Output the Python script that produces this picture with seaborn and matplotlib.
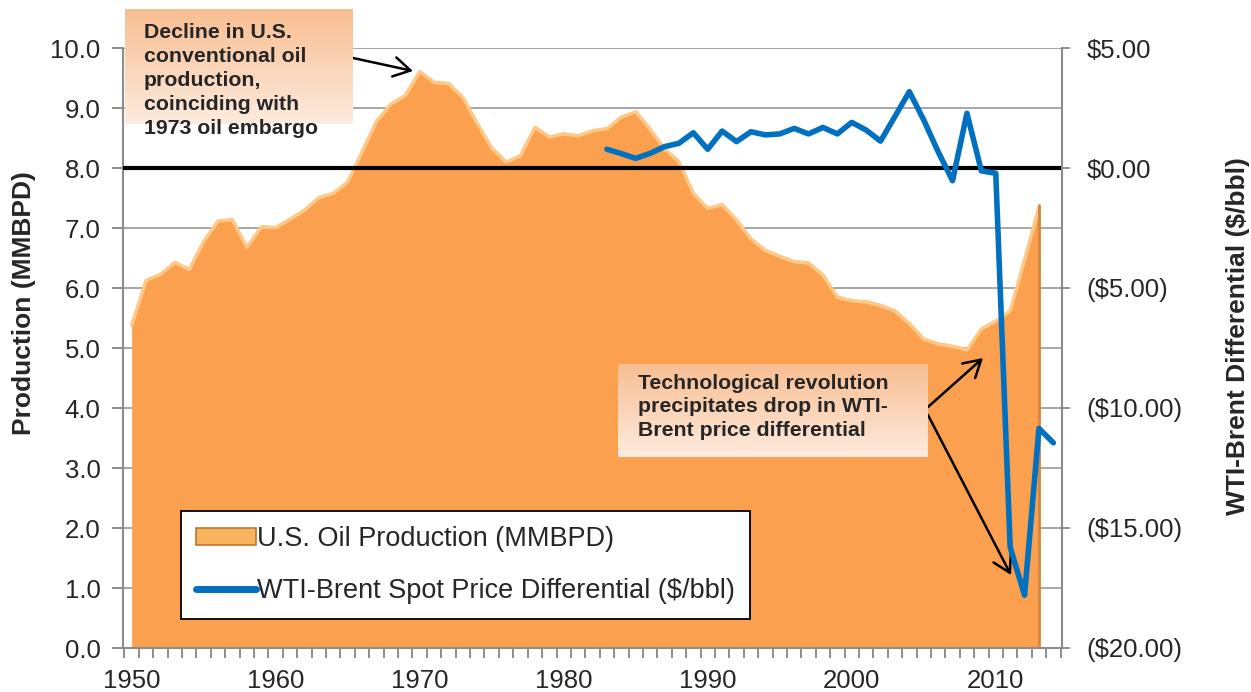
import numpy as np
import matplotlib
matplotlib.use("Agg")
import matplotlib.pyplot as plt
import matplotlib.transforms as mtransforms
from matplotlib.patches import Patch
from matplotlib.lines import Line2D
from matplotlib.ticker import FixedLocator, FuncFormatter
import seaborn as sns

# data
prod_years = list(range(1950, 2014))
production = [5.41, 6.16, 6.26, 6.46, 6.34, 6.81, 7.15, 7.17, 6.71, 7.05,
              7.04, 7.18, 7.33, 7.54, 7.61, 7.80, 8.30, 8.81, 9.10, 9.24,
              9.64, 9.46, 9.44, 9.21, 8.77, 8.37, 8.13, 8.24, 8.71, 8.55,
              8.60, 8.57, 8.65, 8.69, 8.88, 8.97, 8.68, 8.35, 8.14, 7.61,
              7.36, 7.42, 7.17, 6.85, 6.66, 6.56, 6.47, 6.45, 6.25, 5.88,
              5.82, 5.80, 5.74, 5.65, 5.44, 5.18, 5.10, 5.06, 5.00, 5.35,
              5.48, 5.65, 6.50, 7.38]

diff_years = list(range(1983, 2015))
differential = [0.78, 0.60, 0.40, 0.61, 0.89, 1.03, 1.47, 0.78, 1.54, 1.10,
                1.51, 1.38, 1.42, 1.65, 1.42, 1.69, 1.42, 1.90, 1.58, 1.12,
                2.15, 3.18, 2.00, 0.68, -0.53, 2.28, -0.12, -0.22, -15.8, -17.8,
                -10.85, -11.45]

left_ticks = [0, 1, 2, 3, 4, 5, 6, 7, 8, 9, 10]
right_ticks = [-20, -15, -10, -5, 0, 5]
decades = [1950, 1960, 1970, 1980, 1990, 2000, 2010]

note_top = "Decline in U.S.\nconventional oil\nproduction,\ncoinciding with\n1973 oil embargo"
note_bottom = "Technological revolution\nprecipitates drop in WTI-\nBrent price differential"
label_prod = "U.S. Oil Production (MMBPD)"
label_diff = "WTI-Brent Spot Price Differential ($/bbl)"

sns.set_theme(style="white")
plt.rcParams['font.family'] = ['Liberation Sans', 'DejaVu Sans']

W, H = 1251, 692
fig = plt.figure(figsize=(W / 100, H / 100), dpi=100)


def fx(x):
    return x / W


def fy(y):
    return 1 - y / H


ax = fig.add_axes([fx(123.3), fy(648), fx(1062) - fx(123.3), fy(48) - fy(648)])
ax2 = ax.twinx()

grey = "#8C8C8C"
orange = "#FBA04E"

# production area with a little bevel
ax.set_axisbelow(True)
ax.grid(axis="y", color="#A6A6A6", lw=1.4)
ax.grid(axis="x", visible=False)
ax.fill_between(prod_years, production, 0, color=orange, lw=0, zorder=2)
shift = mtransforms.offset_copy(ax.transData, fig=fig, x=0, y=-2, units="dots")
ax.plot(prod_years, production, color="#FFC985", lw=2.5, transform=shift,
        zorder=3, solid_joinstyle="round")
ax.plot([prod_years[-1], prod_years[-1]], [0, production[-1]], color="#D9823A",
        lw=2, zorder=3)

ax.set_xlim(1949.42, 2014.6)
ax.set_ylim(0, 10)
ax.yaxis.set_major_locator(FixedLocator(left_ticks))
ax.yaxis.set_major_formatter(FuncFormatter(lambda v, p: f"{v:.1f}"))
ax.xaxis.set_major_locator(FixedLocator(decades))
ax.xaxis.set_minor_locator(FixedLocator(np.arange(1949.5, 2015, 1)))
ax.tick_params(axis="x", which="major", length=0, labelsize=18.5, pad=15)
ax.tick_params(axis="x", which="minor", length=7, width=1.4, color=grey,
               direction="out", bottom=True)
ax.tick_params(axis="y", length=8, width=1.4, color=grey, direction="out",
               left=True, labelsize=18.5, pad=8.5)
for s in ["top", "right"]:
    ax.spines[s].set_visible(False)
for s in ["left", "bottom"]:
    ax.spines[s].set_color(grey)
    ax.spines[s].set_linewidth(1.5)

# price differential on the right axis
ax2.axhline(0, color="black", lw=3, zorder=2)
sns.lineplot(x=diff_years, y=differential, ax=ax2, color="#0070C0", lw=4,
             zorder=4)
ax2.set_ylim(-20, 5)
ax2.yaxis.set_major_locator(FixedLocator(right_ticks))
ax2.yaxis.set_major_formatter(FuncFormatter(
    lambda v, p: f"${v:.2f}" if v >= 0 else f"(${-v:.2f})"))
ax2.tick_params(axis="y", length=6, width=1.4, color=grey, direction="out",
                right=True, labelsize=18.5, pad=11.5)
ax2.set_xlabel("")
ax2.set_ylabel("")
ax2.grid(False)
for s in ["top", "left", "bottom"]:
    ax2.spines[s].set_visible(False)
ax2.spines["right"].set_color(grey)
ax2.spines["right"].set_linewidth(1.5)
ax2.set_xlim(1949.42, 2014.6)

fig.text(fx(24), fy(303), "Production (MMBPD)", rotation=90, fontsize=19,
         weight="bold", ha="center", va="center")
fig.text(fx(1238), fy(336), "WTI-Brent Differential ($/bbl)", rotation=90,
         fontsize=19, weight="bold", ha="center", va="center")

handles = [Patch(facecolor="#F7B45E", edgecolor="#C2732E", lw=1.2),
           Line2D([0], [0], color="#0070C0", lw=5, solid_capstyle="round")]
leg = ax2.legend(handles, [label_prod, label_diff], loc="lower left",
                 bbox_to_anchor=(0.062, 0.049), borderaxespad=0, fontsize=19.5,
                 frameon=True, fancybox=False, edgecolor="black",
                 handlelength=2.2, handleheight=0.6, handletextpad=0.05,
                 labelspacing=0.96, borderpad=0.55, framealpha=1)
leg.get_frame().set_linewidth(1.3)
leg.set_zorder(10)


def note_box(x0, y0, x1, y1):
    bx = fig.add_axes([fx(x0), fy(y1), fx(x1) - fx(x0), fy(y0) - fy(y1)])
    top = np.array([248, 190, 146]) / 255
    bot = np.array([253, 235, 222]) / 255
    t = np.linspace(0, 1, 100)[:, None, None]
    grad = top * (1 - t) + bot * t
    bx.imshow(grad, aspect="auto", extent=[0, 1, 0, 1])
    bx.set_axis_off()
    return bx


note_box(125, 9, 353, 124)
note_box(618, 364, 928, 457)
fig.text(fx(144), fy(23), note_top, fontsize=15.3, weight="bold", va="top",
         ha="left", linespacing=1.34)
fig.text(fx(638), fy(374), note_bottom, fontsize=15.3, weight="bold", va="top",
         ha="left", linespacing=1.3)

arrow = dict(arrowstyle="->,head_length=0.6,head_width=0.35", color="black",
             lw=1.8, shrinkA=0, shrinkB=0, mutation_scale=20)
for (x0, y0), (x1, y1) in [((353, 58), (413, 71)),
                           ((928, 407), (983, 358)),
                           ((928, 415), (1011, 575))]:
    ax2.annotate("", xy=(x1, H - y1), xycoords="figure pixels",
                 xytext=(x0, H - y0), textcoords="figure pixels",
                 arrowprops=arrow, annotation_clip=False)

fig.savefig("out.png", dpi=100)
